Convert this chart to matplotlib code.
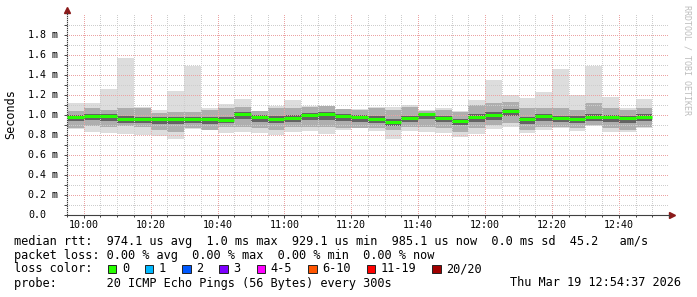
import matplotlib
matplotlib.use("Agg")
import matplotlib.pyplot as plt
import matplotlib.dates as mdates
import matplotlib.patches as mpatches
from matplotlib.ticker import FixedLocator
import pandas as pd

# 5 minute slots, smokeping style (values in ms)
slots = pd.date_range("2026-03-19 09:55", periods=35, freq="5min")

rtt_median = [0.977, 0.987, 0.987, 0.960, 0.957, 0.960, 0.957, 0.960, 0.957, 0.953,
              1.013, 0.980, 0.960, 0.973, 1.000, 1.007, 0.990, 0.977, 0.960, 0.933,
              0.967, 1.010, 0.973, 0.943, 0.980, 1.000, 1.037, 0.960, 0.990, 0.970,
              0.960, 0.980, 0.980, 0.973, 0.985]
rtt_max = [1.117, 1.117, 1.260, 1.573, 1.077, 1.050, 1.240, 1.493, 1.073, 1.110,
           1.160, 1.040, 1.090, 1.150, 1.090, 1.090, 1.060, 1.060, 1.077, 1.077,
           1.097, 1.050, 1.067, 1.043, 1.150, 1.350, 1.200, 1.167, 1.227, 1.460,
           1.200, 1.490, 1.180, 1.073, 1.160]
rtt_min = [0.857, 0.833, 0.823, 0.810, 0.800, 0.793, 0.757, 0.857, 0.850, 0.823,
           0.833, 0.823, 0.800, 0.833, 0.843, 0.810, 0.850, 0.867, 0.843, 0.757,
           0.843, 0.833, 0.823, 0.783, 0.810, 0.857, 0.883, 0.817, 0.850, 0.867,
           0.843, 0.890, 0.833, 0.830, 0.867]
# mid smoke band
rtt_hi = [1.040, 1.067, 1.050, 1.067, 1.067, 1.017, 1.033, 1.033, 1.050, 1.067,
          1.083, 1.040, 1.067, 1.067, 1.083, 1.093, 1.060, 1.050, 1.067, 1.050,
          1.083, 1.040, 1.050, 1.033, 1.100, 1.117, 1.133, 1.067, 1.073, 1.067,
          1.050, 1.117, 1.067, 1.050, 1.073]
rtt_lo = [0.867, 0.893, 0.883, 0.890, 0.883, 0.850, 0.833, 0.867, 0.850, 0.883,
          0.883, 0.867, 0.850, 0.883, 0.883, 0.883, 0.867, 0.867, 0.867, 0.850,
          0.883, 0.883, 0.867, 0.833, 0.873, 0.900, 0.917, 0.850, 0.883, 0.883,
          0.867, 0.900, 0.867, 0.850, 0.883]
# dark core around the median
core_hi = [1.000, 1.010, 1.010, 0.990, 0.985, 0.980, 0.980, 0.985, 0.985, 0.980,
           1.030, 1.000, 0.990, 1.000, 1.025, 1.030, 1.010, 1.000, 0.990, 0.960,
           0.995, 1.025, 0.995, 0.965, 1.010, 1.030, 1.060, 0.985, 1.015, 0.995,
           0.990, 1.010, 1.005, 0.995, 1.010]
core_lo = [0.940, 0.950, 0.945, 0.925, 0.920, 0.915, 0.910, 0.920, 0.915, 0.920,
           0.960, 0.935, 0.920, 0.935, 0.955, 0.950, 0.945, 0.930, 0.925, 0.895,
           0.930, 0.960, 0.930, 0.900, 0.935, 0.955, 0.990, 0.915, 0.945, 0.935,
           0.920, 0.945, 0.930, 0.925, 0.945]

ytick_vals = [0.0, 0.2, 0.4, 0.6, 0.8, 1.0, 1.2, 1.4, 1.6, 1.8]
ytick_labels = ["0.0", "0.2 m", "0.4 m", "0.6 m", "0.8 m", "1.0 m", "1.2 m", "1.4 m", "1.6 m", "1.8 m"]

legend_lines = [
    "median rtt:  974.1 us avg  1.0 ms max  929.1 us min  985.1 us now  0.0 ms sd  45.2   am/s",
    "packet loss: 0.00 % avg  0.00 % max  0.00 % min  0.00 % now",
    "loss color:",
    "probe:       20 ICMP Echo Pings (56 Bytes) every 300s",
]
loss_labels = ["0", "1", "2", "3", "4-5", "6-10", "11-19", "20/20"]
loss_colors = ["#26ff00", "#00b8ff", "#0059ff", "#7e00ff", "#ff00ff", "#ff5500", "#ff0000", "#a00000"]
stamp = "Thu Mar 19 12:54:37 2026"

W, H = 697, 297
MONO = "DejaVu Sans Mono"

fig = plt.figure(figsize=(W / 100, H / 100), dpi=100)
ax = fig.add_axes([67 / W, 1 - 215 / H, 602 / W, 202 / H])

x = mdates.date2num(slots)
w = 5 / 1440
ax.bar(x, [a - b for a, b in zip(rtt_max, rtt_min)], bottom=rtt_min, width=w,
       align="edge", color="#dddddd", lw=0, zorder=1)
ax.bar(x, [a - b for a, b in zip(rtt_hi, rtt_lo)], bottom=rtt_lo, width=w,
       align="edge", color="#aeaeae", lw=0, zorder=1)
ax.bar(x, [a - b for a, b in zip(core_hi, core_lo)], bottom=core_lo, width=w,
       align="edge", color="#636363", lw=0, zorder=1)
ax.hlines(rtt_median, x, x + w, colors="#26ff00", lw=2.2, zorder=3, capstyle="butt")

ax.set_xlim(mdates.date2num(pd.Timestamp("2026-03-19 09:55")),
            mdates.date2num(pd.Timestamp("2026-03-19 12:55")))
ax.set_ylim(0, 2.02)

ax.xaxis.set_major_locator(mdates.MinuteLocator(byminute=[0, 20, 40]))
ax.xaxis.set_minor_locator(mdates.MinuteLocator(byminute=range(0, 60, 5)))
ax.xaxis.set_major_formatter(mdates.DateFormatter("%H:%M"))
ax.yaxis.set_major_locator(FixedLocator(ytick_vals))
ax.yaxis.set_minor_locator(FixedLocator([v + 0.1 for v in ytick_vals]))

ax.set_axisbelow(False)
ax.grid(which="major", color="#eba3a3", ls=(0, (1, 1.4)), lw=0.72, antialiased=False)
ax.grid(which="minor", color="#cdcdcd", ls=(0, (1, 1.4)), lw=0.72, antialiased=False)

for s in ["top", "right"]:
    ax.spines[s].set_visible(False)
for s in ["left", "bottom"]:
    ax.spines[s].set_color("#404040")
    ax.spines[s].set_linewidth(0.8)

ax.tick_params(which="both", direction="out", color="#404040", width=0.7)
ax.tick_params(axis="x", which="major", length=2.2, pad=1.5, labelsize=7.2)
ax.tick_params(axis="x", which="minor", length=1.4)
ax.tick_params(axis="y", which="both", length=2.2, labelleft=False)
for lab in ax.get_xticklabels():
    lab.set_family(MONO)

# y labels, left aligned like rrdtool does
for v, t in zip(ytick_vals, ytick_labels):
    ax.text(-(67 - 28) / 602, v, t, transform=ax.get_yaxis_transform(),
            ha="left", va="center", fontsize=7.2, family=MONO)

# axis arrows
ax.plot([0], [1 + 3 / 202], marker="^", ms=5, color="#8b1a1a", transform=ax.transAxes, clip_on=False)
ax.plot([1 + 3 / 602], [0], marker=">", ms=5, color="#8b1a1a", transform=ax.transAxes, clip_on=False)

def fx(px):
    return px / W

def fy(py):
    return 1 - py / H

fig.text(fx(11), fy(114), "Seconds", rotation=90, ha="center", va="center", fontsize=8.5, family=MONO)
fig.text(fx(687), fy(5), "RRDTOOL / TOBI OETIKER", rotation=270, ha="center", va="top",
         fontsize=6, family=MONO, color="#bdbdbd")

line_y = [241, 255, 269, 283]
for t, yy in zip(legend_lines, line_y):
    fig.text(fx(14), fy(yy), t, ha="left", va="center", fontsize=8.55, family=MONO)
fig.text(fx(681.5), fy(283), stamp, ha="right", va="center", fontsize=8.55, family=MONO)

sq = 8.5
cx = 107.8
for lab, col in zip(loss_labels, loss_colors):
    fig.patches.append(mpatches.Rectangle((fx(cx), fy(269 + sq / 2)), sq / W, sq / H,
                                          transform=fig.transFigure, facecolor=col,
                                          edgecolor="#222222", lw=0.7))
    fig.text(fx(cx + 14), fy(269), lab, ha="left", va="center", fontsize=8.55, family=MONO)
    cx += (len(lab) + 4.2) * 7.15

fig.savefig("out.png", dpi=100)
